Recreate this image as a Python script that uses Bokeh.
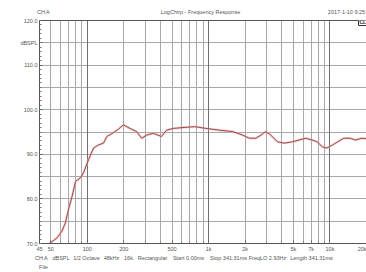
from bokeh.plotting import figure
from bokeh.models import (Range1d, FixedTicker, Label, Grid, LogAxis)
from bokeh.embed import file_html
from bokeh.resources import INLINE

# ---- data ----
freq_hz = [48, 50, 56.5, 62, 66, 70, 75, 80, 87.6, 93, 102.5, 112.6, 123.8, 136,
           145, 159, 180, 198, 225, 255, 281, 308, 350, 409, 450, 511, 615, 768,
           955, 1230, 1580, 1910, 2170, 2450, 2700, 2960, 3250, 3700, 4200, 4900,
           5560, 6300, 7140, 7840, 8650, 9400, 10500, 11600, 13000, 14700, 16200,
           18300, 20000]
spl_db = [69.9, 70.2, 71.3, 72.8, 74.6, 77.6, 80.6, 83.9, 84.7, 85.8, 88.8, 91.4,
          92.1, 92.5, 94.0, 94.6, 95.6, 96.6, 95.8, 95.1, 93.6, 94.3, 94.7, 94.0,
          95.4, 95.8, 96.0, 96.2, 95.8, 95.4, 95.1, 94.3, 93.6, 93.6, 94.3, 95.1,
          94.3, 92.8, 92.5, 92.8, 93.2, 93.6, 93.2, 92.8, 91.7, 91.4, 92.1, 92.8,
          93.6, 93.6, 93.2, 93.6, 93.5]

x_start, x_end = 40.4, 20000
x_ticks = [x_start, 50, 100, 200, 500, 1000, 2000, 5000, 7000, 10000, 20000]
x_tick_labels = ["45", "50", "100", "200", "500", "1k", "2k", "5k", "7k", "10k", "20k"]
x_grid_minor = [50, 60, 70, 80, 90, 200, 300, 400, 500, 600, 700, 800, 900,
                2000, 3000, 4000, 5000, 6000, 7000, 8000, 9000]
x_grid_major = [100, 1000, 10000]
y_ticks = [70, 80, 90, 100, 110, 115, 120]
y_tick_labels = ["70.0", "80.0", "90.0", "100.0", "110.0", "dBSPL", "120.0"]
y_grid = [75, 80, 85, 90, 95, 100, 105, 110, 115]

header_texts = ["CH A", "LogChirp - Frequency Response", "2017-1-10 9:25"]
info_texts = ["CH A", "dBSPL", "1/2 Octave", "48kHz", "16k", "Rectangular",
              "Start 0.00ms", "Stop 341.31ms", "FreqLO 2.93Hz", "Length 341.31ms"]
footer_texts = ["File"]

# ---- layout (pixel centres of the texts, measured from the frame's left) ----
W, H = 366, 272
LEFT, TOP, BOTTOM = 39, 20, 28
FRAME_W = W - LEFT
header_px = [4, 161, 307]
info_px = [2, 21.5, 47, 72, 89, 113, 149, 189, 228, 272]
footer_px = [4]

def px_to_freq(px):
    return round(x_start * (x_end / x_start) ** (px / FRAME_W), 3)

FONT = "Liberation Sans"
TXT = "#555555"
FS = "5.5px"

p = figure(width=W, height=H, x_axis_type="log",
           x_range=Range1d(x_start, x_end), y_range=Range1d(70, 120),
           output_backend="svg", toolbar_location=None,
           min_border_left=LEFT, min_border_right=0, min_border_top=TOP,
           min_border_bottom=BOTTOM)
p.outline_line_color = None
p.background_fill_color = "white"
p.border_fill_color = "white"

# grids
p.xgrid.ticker = FixedTicker(ticks=x_grid_minor)
p.xgrid.grid_line_color = "#a8a8a8"
p.ygrid.ticker = FixedTicker(ticks=y_grid)
p.ygrid.grid_line_color = "#a8a8a8"
p.add_layout(Grid(dimension=0, ticker=FixedTicker(ticks=x_grid_major),
                  grid_line_color="#707070"))

# main axes
xa = p.xaxis[0]
xa.ticker = FixedTicker(ticks=x_ticks, minor_ticks=x_grid_minor + x_grid_major)
xa.major_label_overrides = {t: l for t, l in zip(x_ticks, x_tick_labels)}
ya = p.yaxis[0]
ya.ticker = FixedTicker(ticks=y_ticks, minor_ticks=list(range(70, 121)))
ya.major_label_overrides = {t: l for t, l in zip(y_ticks, y_tick_labels)}
for ax in (xa, ya):
    ax.axis_line_color = "#555555"
    ax.major_tick_line_color = "#555555"
    ax.minor_tick_line_color = "#777777"
    ax.major_tick_in = 3
    ax.major_tick_out = 0
    ax.minor_tick_in = 2
    ax.minor_tick_out = 0
    ax.major_label_text_font_size = FS
    ax.major_label_text_color = TXT
    ax.major_label_text_font = FONT
xa.major_label_standoff = 2
ya.major_label_standoff = 2

def text_axis(texts, pxs, place, standoff, line=False):
    ticks = [px_to_freq(v) for v in pxs]
    ax = LogAxis(ticker=FixedTicker(ticks=ticks, minor_ticks=[]),
                 major_label_overrides={t: s for t, s in zip(ticks, texts)},
                 major_tick_line_color=None, minor_tick_line_color=None,
                 major_tick_out=0, minor_tick_out=0, major_tick_in=0, minor_tick_in=0,
                 axis_line_color="#555555" if line else None,
                 major_label_standoff=standoff,
                 major_label_text_font_size=FS, major_label_text_font=FONT,
                 major_label_text_color=TXT)
    p.add_layout(ax, place)

text_axis(header_texts, header_px, "above", 6, line=True)
text_axis(info_texts, info_px, "below", 0)
text_axis(footer_texts, footer_px, "below", 0)

# curve
p.line(freq_hz, spl_db, line_color="#eab0b0", line_width=2.4, line_alpha=0.6)
p.line(freq_hz, spl_db, line_color="#9e4a4a", line_width=1.0)

# small "CL" tag at the top right corner of the plot area
p.add_layout(Label(x=FRAME_W - 8, y=222, x_units="screen", y_units="screen",
                   text="CL", text_font=FONT, text_font_size="5px",
                   text_font_style="bold", text_color="#222222",
                   text_align="left", text_baseline="middle",
                   border_line_color="#333333", background_fill_color="white",
                   padding=1))

open("out.html", "w").write(file_html(p, INLINE))
